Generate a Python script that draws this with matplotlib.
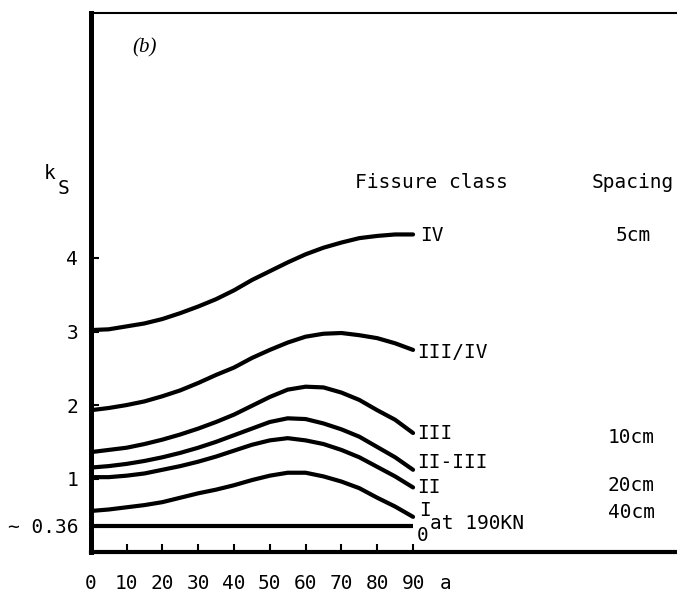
# k_S vs angle a for each fissure class (fig. b)
# saves out.png

import matplotlib.pyplot as plt

# angle a (deg), read every 5
a = [0, 5, 10, 15, 20, 25, 30, 35, 40, 45, 50, 55, 60, 65, 70, 75, 80, 85, 90]

# k_S
ks_IV = [3.02, 3.03, 3.07, 3.11, 3.17, 3.25, 3.34, 3.44, 3.56, 3.70,
         3.82, 3.94, 4.05, 4.14, 4.21, 4.27, 4.30, 4.32, 4.32]
ks_III_IV = [1.93, 1.96, 2.00, 2.05, 2.12, 2.20, 2.30, 2.41, 2.51, 2.64,
             2.75, 2.85, 2.93, 2.97, 2.98, 2.95, 2.91, 2.84, 2.75]
ks_III = [1.36, 1.39, 1.42, 1.47, 1.53, 1.60, 1.68, 1.77, 1.87, 1.99,
          2.11, 2.21, 2.25, 2.24, 2.17, 2.07, 1.93, 1.80, 1.62]
ks_II_III = [1.15, 1.17, 1.20, 1.24, 1.29, 1.35, 1.42, 1.50, 1.59, 1.68,
             1.77, 1.82, 1.81, 1.75, 1.67, 1.57, 1.43, 1.29, 1.12]
ks_II = [1.02, 1.02, 1.04, 1.07, 1.12, 1.17, 1.23, 1.30, 1.38, 1.46,
         1.52, 1.55, 1.52, 1.47, 1.39, 1.29, 1.16, 1.03, 0.88]
ks_I = [0.56, 0.58, 0.61, 0.64, 0.68, 0.74, 0.80, 0.85, 0.91, 0.98,
        1.04, 1.08, 1.08, 1.03, 0.96, 0.87, 0.74, 0.62, 0.48]
a_0 = [0, 90]
ks_0 = [0.36, 0.36]

xticks = [0, 10, 20, 30, 40, 50, 60, 70, 80, 90]
yticks = [0.36, 1, 2, 3, 4]
ytick_labels = ["~ 0.36", "1", "2", "3", "4"]

MONO = "DejaVu Sans Mono"
FS = 14

fig = plt.figure(figsize=(6.77, 5.95), dpi=100)
ax = fig.add_axes([0.134, 0.072, 0.866, 0.906])

for ys in [ks_IV, ks_III_IV, ks_III, ks_II_III, ks_II, ks_I]:
    ax.plot(a, ys, color='black', lw=3, solid_capstyle='round', solid_joinstyle='round')
ax.plot(a_0, ks_0, color='black', lw=3, solid_capstyle='butt')

ax.set_xlim(0, 163.7)
ax.set_ylim(0, 7.33)

ax.spines['right'].set_visible(False)
ax.spines['left'].set_linewidth(3.6)
ax.spines['bottom'].set_linewidth(3.0)
ax.spines['top'].set_linewidth(1.5)

ax.set_xticks(xticks)
ax.set_xticklabels([str(x) for x in xticks], family=MONO, fontsize=FS)
ax.set_yticks(yticks)
ax.set_yticklabels(ytick_labels, family=MONO, fontsize=FS)
ax.tick_params(axis='x', direction='in', length=6, width=1.5, pad=16)
ax.tick_params(axis='y', direction='in', length=6, width=1.5, pad=9)

# curve end labels
curve_labels = [("IV", 91.9, 4.31), ("III/IV", 91.0, 2.72), ("III", 91.0, 1.62),
                ("II-III", 91.0, 1.22), ("II", 91.0, 0.88), ("I", 91.6, 0.56),
                ("0", 91.0, 0.23)]
for txt, x, y in curve_labels:
    ax.text(x, y, txt, family=MONO, fontsize=FS, ha='left', va='center')
ax.text(94.7, 0.39, "at 190KN", family=MONO, fontsize=FS, ha='left', va='center')

ax.text(73.7, 5.03, "Fissure class", family=MONO, fontsize=FS, ha='left', va='center')
ax.text(140.0, 5.03, "Spacing", family=MONO, fontsize=FS, ha='left', va='center')
for txt, y in [("5cm", 4.30), ("10cm", 1.56), ("20cm", 0.90), ("40cm", 0.54)]:
    x = 146.6 if txt == "5cm" else 144.4
    ax.text(x, y, txt, family=MONO, fontsize=FS, ha='left', va='center')

ax.text(11.7, 6.86, "(b)", family="Liberation Serif", style='italic', fontsize=15,
        ha='left', va='center')

# axis names
ax.text(-13.0, 5.15, "k", family=MONO, fontsize=FS, ha='left', va='center', clip_on=False)
ax.text(-9.2, 4.95, "S", family=MONO, fontsize=FS, ha='left', va='center', clip_on=False)
ax.text(97.5, -0.42, "a", family=MONO, fontsize=FS, ha='left', va='center', clip_on=False)

plt.savefig("out.png", dpi=100)
